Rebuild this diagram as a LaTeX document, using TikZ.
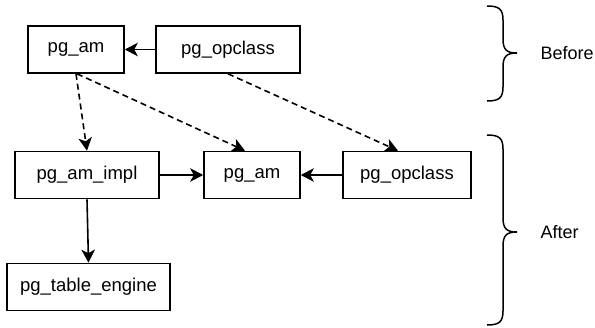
\documentclass[tikz,border=0pt]{standalone}
\usepackage{fontspec}
\setmainfont{Liberation Sans}
\usepackage{tikz}
\usetikzlibrary{arrows.meta}

\tikzset{
  tbl/.style={draw, line width=1.6pt, inner sep=0pt, minimum height=47pt,
    font=\fontsize{18.5}{22}\selectfont},
  link/.style={line width=1.6pt, -{Stealth[length=13pt,width=13.5pt,inset=3.5pt]}},
  moved/.style={link, dash pattern=on 6pt off 4pt},
  brc/.style={line width=1.5pt},
  tag/.style={font=\fontsize{18}{22}\selectfont}
}

\begin{document}
\begin{tikzpicture}[x=1pt, y=-1pt]
  \useasboundingbox (0,0) rectangle (595,327);

  % old layout
  \node [tbl, minimum width=96pt]  (amold) at (76,49.5)  {pg\_am};
  \node [tbl, minimum width=144pt] (opold) at (228,49.5) {pg\_opclass};
  \draw [link] (opold) -- (amold);

  % new layout
  \node [tbl, minimum width=144pt] (impl)   at (87,175)    {pg\_am\_impl};
  \node [tbl, minimum width=96pt]  (amnew)  at (252,175)   {pg\_am};
  \node [tbl, minimum width=128pt] (opnew)  at (407,175)   {pg\_opclass};
  \node [tbl, minimum width=163pt] (engine) at (88.5,287)  {pg\_table\_engine};
  \draw [link] (impl) -- (amnew);
  \draw [link] (opnew) -- (amnew);
  \draw [link] (impl.south) -- (engine.north);

  % where things went
  \draw [moved] (amold.south) -- (impl.north);
  \draw [moved] ([xshift=1pt]amold.south) -- ([xshift=-7pt]amnew.north);
  \draw [moved] (opold.south) -- ([xshift=-9pt]opnew.north);

  % braces
  \foreach \top/\bot/\mid/\txt in {6/101/53/Before, 135/325/232/After}
  {
    \draw [brc] (487,\top) .. controls (499,\top) and (503,\top+3) .. (503,\top+14)
      -- (503,\mid-14) .. controls (503,\mid-3) and (507,\mid) .. (517,\mid)
      .. controls (507,\mid) and (503,\mid+3) .. (503,\mid+14)
      -- (503,\bot-14) .. controls (503,\bot-3) and (499,\bot) .. (487,\bot);
    \node [tag, anchor=west] (lbl\txt) at (537,\mid) {\txt};
  }
\end{tikzpicture}
\end{document}
